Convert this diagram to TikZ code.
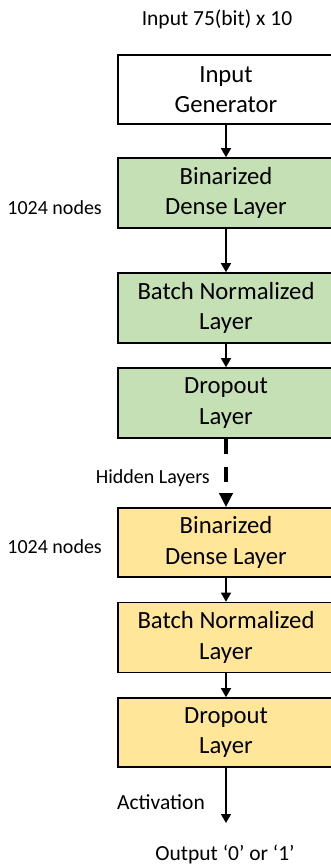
\documentclass[tikz,border=0pt]{standalone}
\usepackage{fontspec}
\setmainfont{Carlito}
\usetikzlibrary{arrows.meta}
\definecolor{layergreen}{HTML}{C5E0B4}
\definecolor{layergold}{HTML}{FFE699}
\begin{document}
\begin{tikzpicture}[x=1pt,y=-1pt,
  layerbox/.style={draw=black, line width=1.6pt, minimum width=216pt, minimum height=70pt,
    align=center, inner sep=0pt, font=\fontsize{24.7}{30.5}\selectfont},
  greenbox/.style={layerbox, fill=layergreen},
  goldbox/.style={layerbox, fill=layergold},
  sidetext/.style={font=\fontsize{20}{23}\selectfont, inner sep=0pt},
  endtext/.style={font=\fontsize{21.5}{25}\selectfont, inner sep=0pt},
  flow/.style={line width=1.5pt, -{Triangle[width=10pt,length=9pt]}},
  skipflow/.style={line width=4pt, dash pattern=on 15pt off 13pt, -{Triangle[width=13pt,length=14pt]}}
]
\useasboundingbox (0,0) rectangle (331,865);

% layer stack
\node[layerbox, fill=white, minimum height=69pt] (gen) at (226,89.5) {Input\\Generator};
\node[greenbox] (bd1) at (226,193) {Binarized\\Dense Layer};
\node[greenbox] (bn1) at (226,308) {Batch Normalized\\Layer};
\node[greenbox] (do1) at (226,403) {Dropout\\Layer};
\node[goldbox, minimum height=69pt] (bd2) at (226,542.5) {Binarized\\Dense Layer};
\node[goldbox] (bn2) at (226,637.5) {Batch Normalized\\Layer};
\node[goldbox, minimum height=69pt] (do2) at (226,732.5) {Dropout\\Layer};

% labels
\node[endtext] (inlabel) at (217,19) {Input 75(bit) x 10};
\node[sidetext, anchor=east] (nodes1) at (102,208) {1024 nodes};
\node[sidetext, anchor=east] (nodes2) at (102,547) {1024 nodes};
\node[sidetext, anchor=east] (hidden) at (210,478) {Hidden Layers};
\node[endtext, anchor=west] (act) at (117,802) {Activation};
\node[endtext] (outlabel) at (225,854) {Output ‘0’ or ‘1’};
\coordinate (outend) at (226,823);

% connectors
\draw[flow] (gen.south) -- (bd1.north);
\draw[flow] (bd1.south) -- (bn1.north);
\draw[flow] (bn1.south) -- (do1.north);
\draw[skipflow] (do1.south) -- (bd2.north);
\draw[flow] (bd2.south) -- (bn2.north);
\draw[flow] (bn2.south) -- (do2.north);
\draw[flow] (do2.south) -- (outend);
\end{tikzpicture}
\end{document}
